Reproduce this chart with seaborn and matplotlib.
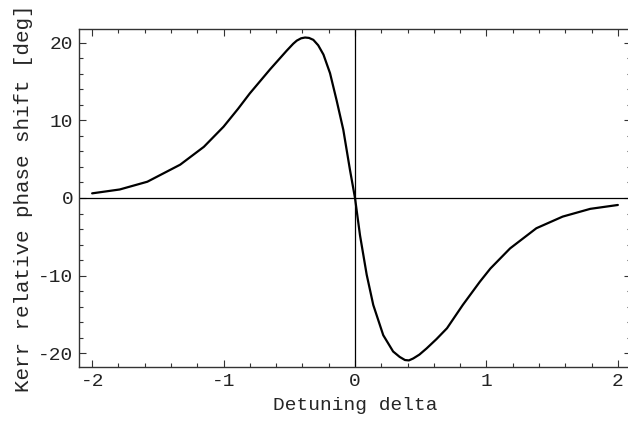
import matplotlib
matplotlib.use("Agg")
import matplotlib.pyplot as plt
from matplotlib.ticker import MultipleLocator
import pandas as pd
import seaborn as sns

# Kerr relative phase shift versus detuning
detuning = [-2.0, -1.79, -1.58, -1.33, -1.15, -1.0, -0.89, -0.80, -0.646,
            -0.52, -0.47, -0.443, -0.41, -0.38, -0.35, -0.317, -0.28, -0.24,
            -0.19, -0.14, -0.089, -0.038, 0.0, 0.038, 0.089, 0.139, 0.215,
            0.29, 0.34, 0.38, 0.41, 0.443, 0.49, 0.545, 0.62, 0.70, 0.82,
            0.95, 1.03, 1.18, 1.38, 1.58, 1.79, 2.0]
phase_shift = [0.6, 1.1, 2.1, 4.3, 6.6, 9.2, 11.5, 13.5, 16.6,
               19.0, 19.9, 20.3, 20.6, 20.7, 20.65, 20.4, 19.7, 18.5,
               16.1, 12.6, 8.8, 3.6, 0.0, -4.8, -9.9, -13.8, -17.7,
               -19.8, -20.5, -20.9, -20.95, -20.7, -20.2, -19.4, -18.2, -16.8, -13.8,
               -10.8, -9.1, -6.5, -3.9, -2.4, -1.4, -0.9]

x_ticks = [-2, -1, 0, 1, 2]
y_ticks = [-20, -10, 0, 10, 20]

df = pd.DataFrame({"delta": detuning, "phase": phase_shift})

sns.set_theme(style="white")
plt.rcParams["font.family"] = ["Liberation Mono", "DejaVu Sans Mono"]
plt.rcParams["text.color"] = "#222222"

fig = plt.figure(figsize=(6.28, 4.22), dpi=100)
ax = fig.add_axes([79 / 628, 55 / 422, 552 / 628, 338 / 422])

ax.axhline(0, color="black", lw=0.9, zorder=1)
ax.axvline(0, color="black", lw=0.9, zorder=1)
sns.lineplot(data=df, x="delta", y="phase", ax=ax, color="black", lw=1.6,
             sort=False, zorder=3)

ax.set_xlim(-2.1, 2.1)
ax.set_ylim(-21.8, 21.8)
ax.set_xticks(x_ticks)
ax.set_yticks(y_ticks)
ax.set_xticklabels([f"{t}" for t in x_ticks])
ax.set_yticklabels([f"{t}" for t in y_ticks])
ax.xaxis.set_minor_locator(MultipleLocator(0.2))
ax.yaxis.set_minor_locator(MultipleLocator(2))

ax.tick_params(which="both", direction="in", top=True, right=True,
               bottom=True, left=True, color="#333333", width=0.8)
ax.tick_params(which="major", length=5, labelsize=14, labelcolor="#222222", pad=4)
ax.tick_params(which="minor", length=3)
for s in ax.spines.values():
    s.set_color("#333333")
    s.set_linewidth(1.0)

ax.set_xlabel("Detuning delta", fontsize=14, labelpad=5)
ax.set_ylabel("Kerr relative phase shift [deg]", fontsize=15, labelpad=4)

fig.savefig("out.png", dpi=100, facecolor="white")
